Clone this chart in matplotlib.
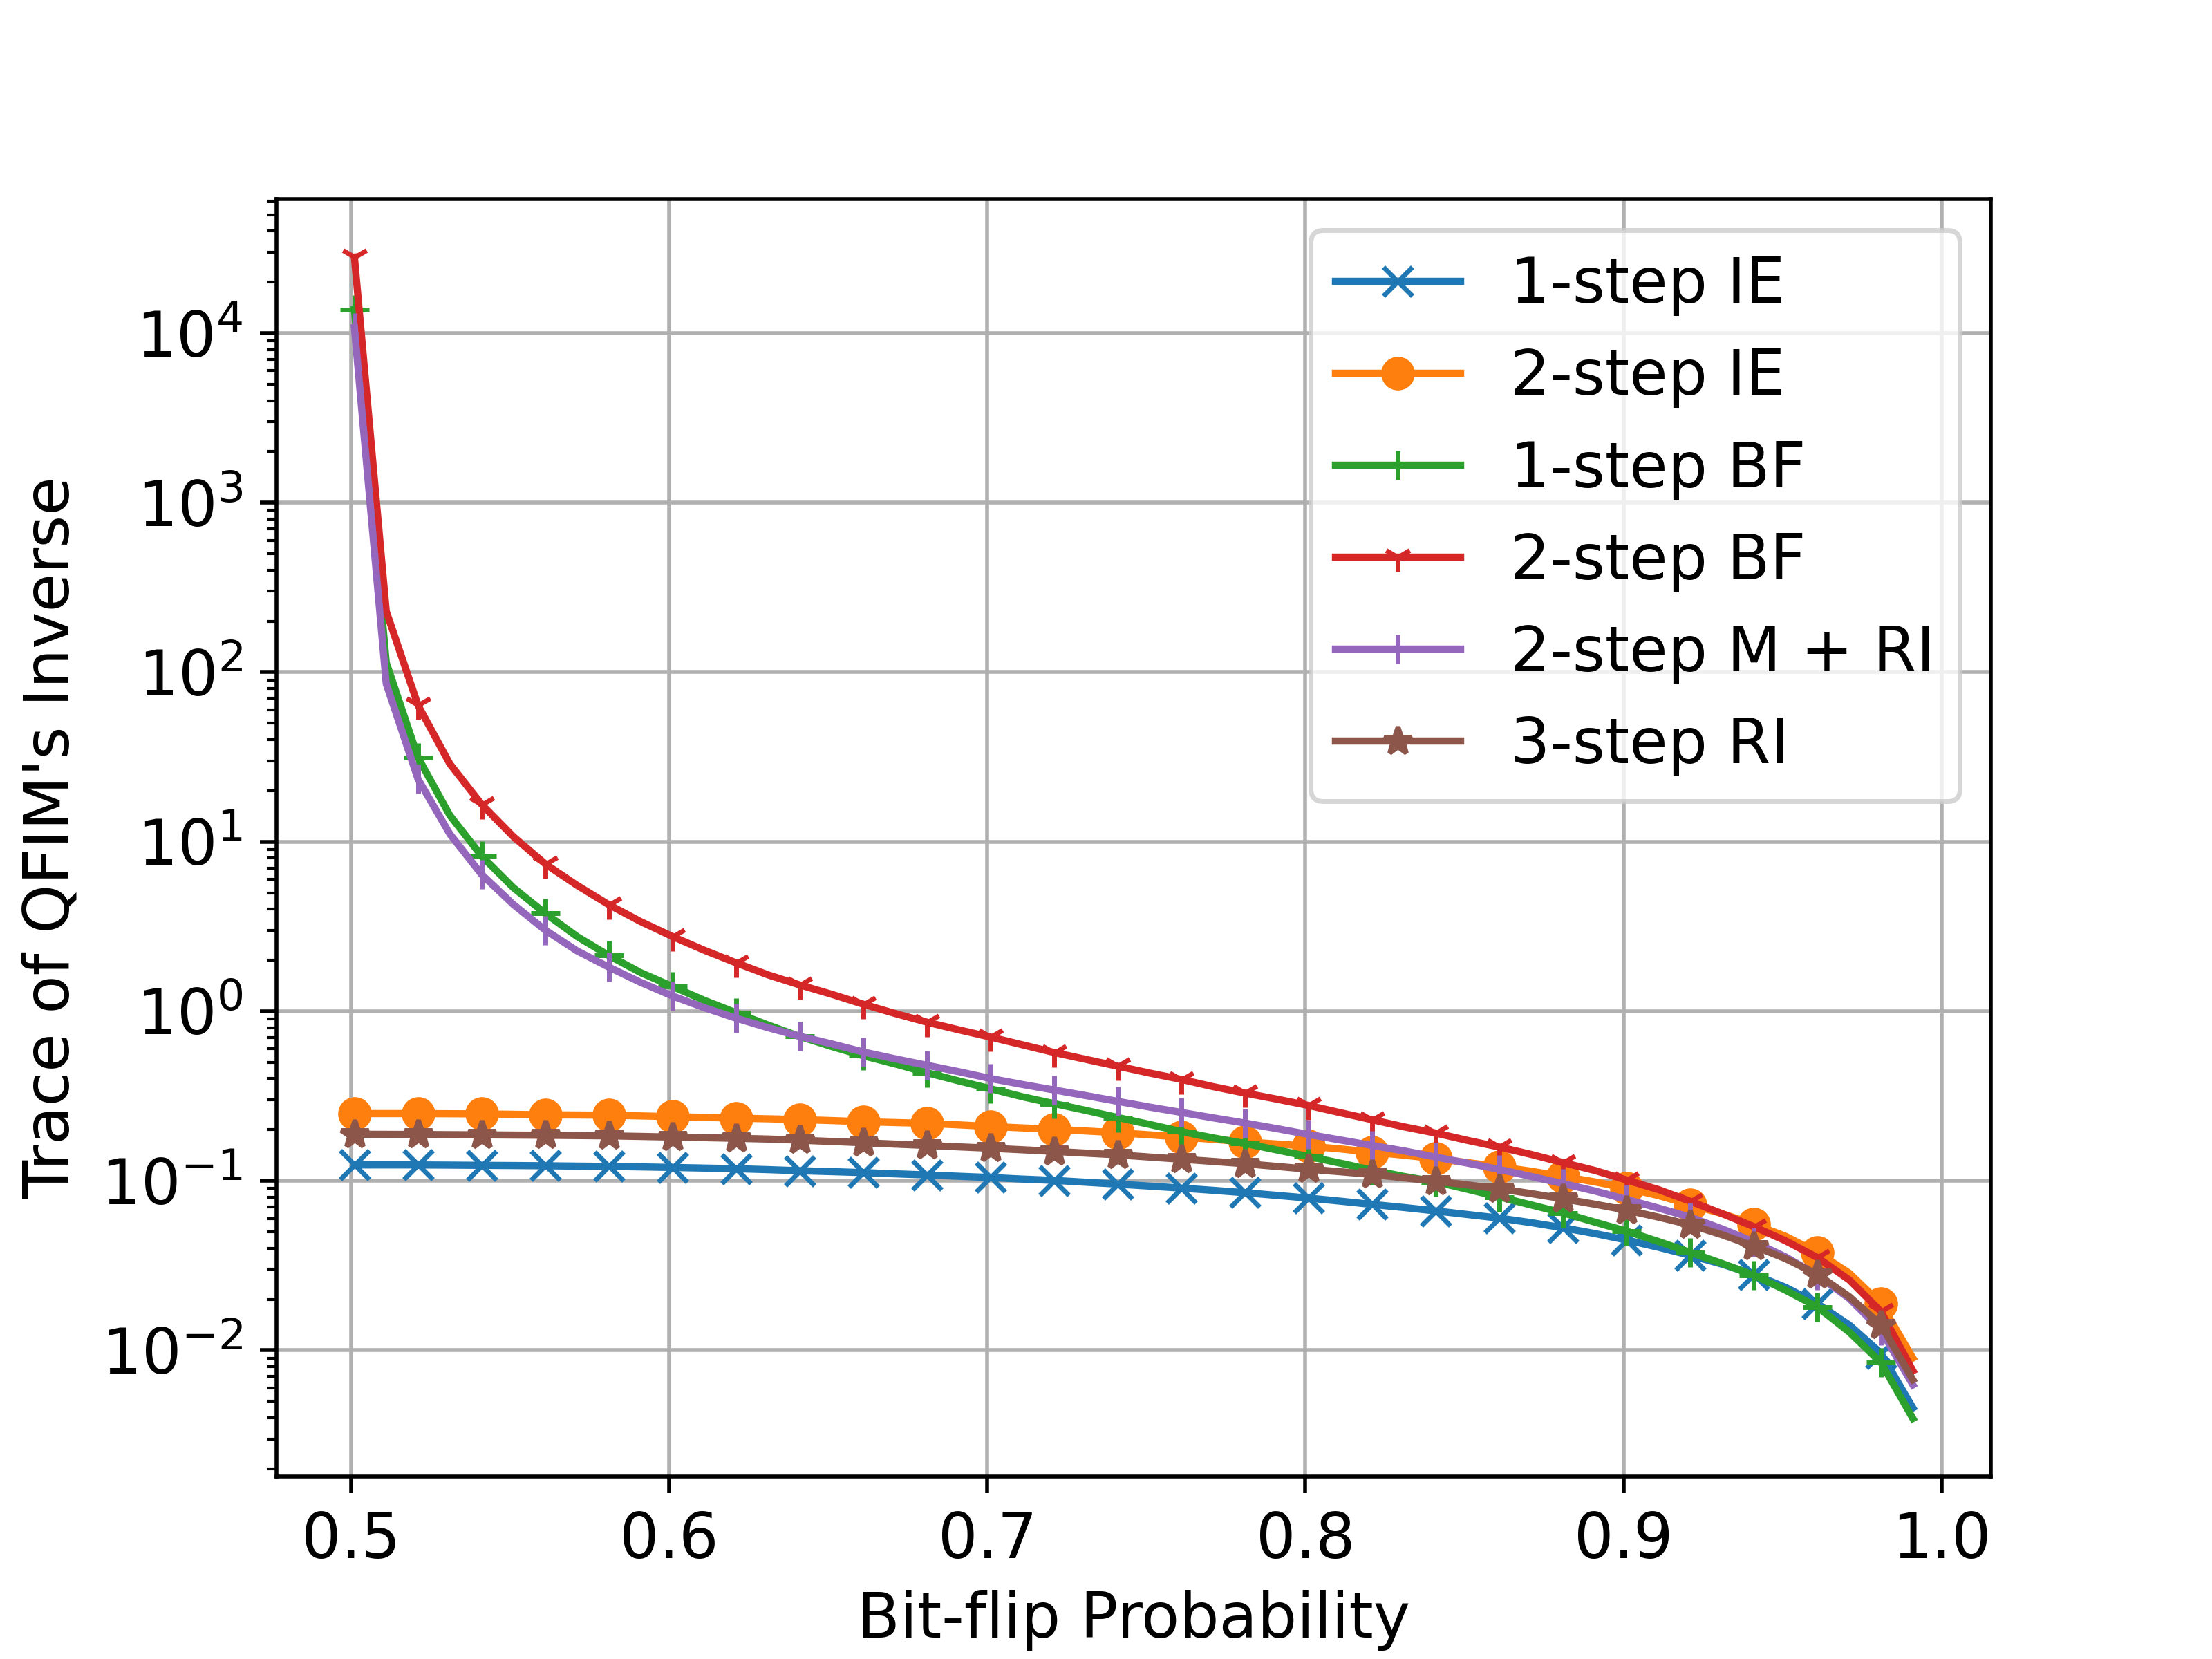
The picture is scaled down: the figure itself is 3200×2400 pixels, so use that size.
import numpy as np
import matplotlib
matplotlib.use("Agg")
import matplotlib.pyplot as plt

plt.rcParams["font.size"] = 13

# bit-flip probability grid (50 points, first one just above 0.5)
p = np.round(0.501 + 0.01 * np.arange(50), 3)

ie_1step = [
    0.124, 0.124, 0.124, 0.1237, 0.1233, 0.123, 0.1226, 0.122, 0.1215, 0.1207,
    0.1198, 0.1188, 0.1178, 0.1163, 0.1146, 0.1132, 0.1117, 0.1099, 0.1082, 0.1063,
    0.1045, 0.1023, 0.1005, 0.098, 0.0955, 0.093, 0.0905, 0.0878, 0.085, 0.082,
    0.079, 0.0758, 0.0725, 0.0695, 0.0664, 0.0632, 0.0602, 0.0566, 0.0528, 0.0488,
    0.0447, 0.0405, 0.0363, 0.0322, 0.028, 0.0235, 0.0188, 0.0141, 0.0096, 0.00457,
]
ie_2step = [
    0.249, 0.249, 0.249, 0.2485, 0.248, 0.2466, 0.245, 0.2443, 0.2436, 0.2413,
    0.2389, 0.2365, 0.234, 0.232, 0.2296, 0.2265, 0.223, 0.2205, 0.218, 0.2137,
    0.209, 0.205, 0.201, 0.1966, 0.192, 0.1866, 0.181, 0.1755, 0.1695, 0.1648,
    0.16, 0.154, 0.1475, 0.1415, 0.135, 0.128, 0.121, 0.1138, 0.106, 0.0985,
    0.0904, 0.0818, 0.0722, 0.064, 0.0554, 0.047, 0.0378, 0.0285, 0.0188, 0.009,
]
bf_1step = [
    13800, 114, 31.4, 14.3, 8.24, 5.35, 3.78, 2.76, 2.13, 1.69,
    1.40, 1.16, 0.98, 0.83, 0.71, 0.62, 0.546, 0.489, 0.434, 0.388,
    0.349, 0.313, 0.285, 0.26, 0.236, 0.215, 0.195, 0.179, 0.166, 0.152,
    0.139, 0.127, 0.1155, 0.106, 0.0986, 0.089, 0.0802, 0.072, 0.0646, 0.057,
    0.0504, 0.0438, 0.0378, 0.0325, 0.0277, 0.0226, 0.018, 0.0128, 0.00845, 0.00396,
]
bf_2step = [
    28100, 229, 63.8, 28.8, 16.6, 10.7, 7.4, 5.53, 4.25, 3.38,
    2.76, 2.29, 1.93, 1.64, 1.43, 1.26, 1.10, 0.97, 0.862, 0.777,
    0.704, 0.634, 0.571, 0.52, 0.474, 0.432, 0.396, 0.359, 0.329, 0.303,
    0.278, 0.252, 0.229, 0.208, 0.191, 0.173, 0.158, 0.143, 0.128, 0.115,
    0.101, 0.0887, 0.0757, 0.064, 0.0536, 0.0442, 0.0352, 0.026, 0.0169, 0.00757,
]
m_ri_2step = [
    10800, 85.5, 23.4, 11.1, 6.41, 4.26, 3.01, 2.27, 1.82, 1.48,
    1.23, 1.05, 0.91, 0.80, 0.712, 0.642, 0.575, 0.524, 0.48, 0.44,
    0.401, 0.37, 0.343, 0.318, 0.294, 0.272, 0.253, 0.235, 0.219, 0.203,
    0.1875, 0.174, 0.1615, 0.15, 0.138, 0.127, 0.1166, 0.106, 0.0962, 0.087,
    0.0776, 0.069, 0.061, 0.052, 0.0436, 0.0355, 0.0277, 0.0202, 0.0131, 0.00625,
]
ri_3step = [
    0.188, 0.1878, 0.1875, 0.187, 0.1866, 0.186, 0.1855, 0.1848, 0.184, 0.1826,
    0.181, 0.1796, 0.178, 0.1762, 0.1735, 0.1705, 0.1675, 0.1645, 0.1615, 0.1585,
    0.1555, 0.1523, 0.149, 0.1455, 0.1422, 0.138, 0.134, 0.13, 0.126, 0.1215,
    0.117, 0.113, 0.109, 0.104, 0.0995, 0.0945, 0.0896, 0.084, 0.0783, 0.0727,
    0.0671, 0.061, 0.055, 0.048, 0.0412, 0.0347, 0.028, 0.0207, 0.0141, 0.0067,
]

series = [
    ("1-step IE", ie_1step, "x"),
    ("2-step IE", ie_2step, "o"),
    ("1-step BF", bf_1step, "+"),
    ("2-step BF", bf_2step, "1"),
    ("2-step M + RI", m_ri_2step, "|"),
    ("3-step RI", ri_3step, "*"),
]

fig, ax = plt.subplots(figsize=(6.4, 4.8), dpi=500)
for label, vals, mk in series:
    ax.plot(p, vals, marker=mk, markevery=2, label=label)

ax.set_yscale("log")
ax.set_xlabel("Bit-flip Probability")
ax.set_ylabel("Trace of QFIM's Inverse")
ax.grid(True)
ax.legend(loc="upper right")

fig.savefig("out.png", dpi=500)
